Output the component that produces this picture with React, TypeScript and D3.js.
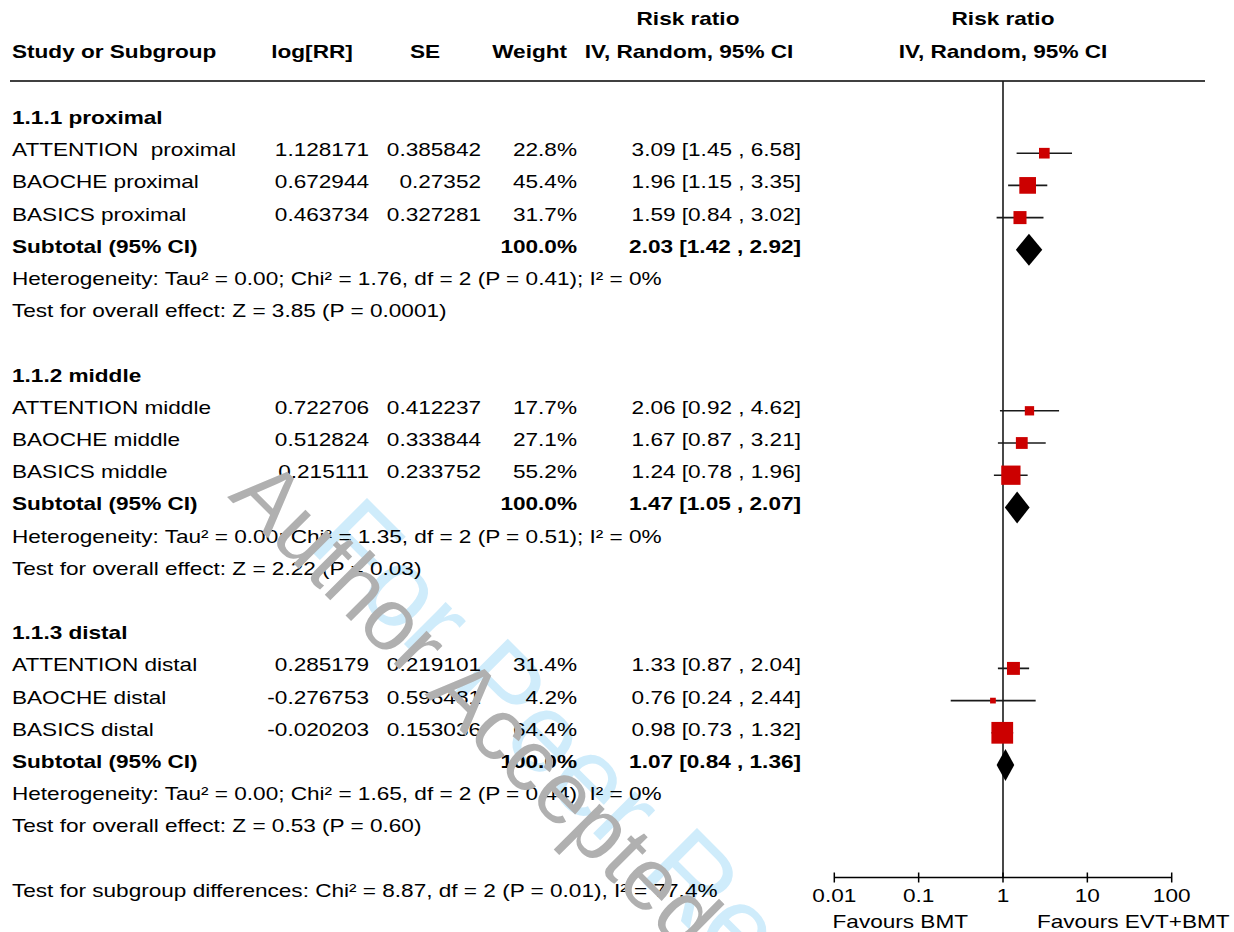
import React from "react";
import * as d3 from "d3";

// ---- data ----
const subgroupTitles = ["1.1.1 proximal", "1.1.2 middle", "1.1.3 distal"];
const studyNames = [
  ["ATTENTION  proximal", "BAOCHE proximal", "BASICS proximal"],
  ["ATTENTION middle", "BAOCHE middle", "BASICS middle"],
  ["ATTENTION distal", "BAOCHE distal", "BASICS distal"],
];
const logRR = [
  ["1.128171", "0.672944", "0.463734"],
  ["0.722706", "0.512824", "0.215111"],
  ["0.285179", "-0.276753", "-0.020203"],
];
const seValues = [
  ["0.385842", "0.27352", "0.327281"],
  ["0.412237", "0.333844", "0.233752"],
  ["0.219101", "0.596481", "0.153036"],
];
const weights = [
  [22.8, 45.4, 31.7],
  [17.7, 27.1, 55.2],
  [31.4, 4.2, 64.4],
];
const riskRatio = [
  [3.09, 1.96, 1.59],
  [2.06, 1.67, 1.24],
  [1.33, 0.76, 0.98],
];
const ciLow = [
  [1.45, 1.15, 0.84],
  [0.92, 0.87, 0.78],
  [0.87, 0.24, 0.73],
];
const ciHigh = [
  [6.58, 3.35, 3.02],
  [4.62, 3.21, 1.96],
  [2.04, 2.44, 1.32],
];
const subtotalRR = [2.03, 1.47, 1.07];
const subtotalLow = [1.42, 1.05, 0.84];
const subtotalHigh = [2.92, 2.07, 1.36];
const heterogeneity = [
  "Heterogeneity: Tau² = 0.00; Chi² = 1.76, df = 2 (P = 0.41); I² = 0%",
  "Heterogeneity: Tau² = 0.00; Chi² = 1.35, df = 2 (P = 0.51); I² = 0%",
  "Heterogeneity: Tau² = 0.00; Chi² = 1.65, df = 2 (P = 0.44); I² = 0%",
];
const overallEffect = [
  "Test for overall effect: Z = 3.85 (P = 0.0001)",
  "Test for overall effect: Z = 2.22 (P = 0.03)",
  "Test for overall effect: Z = 0.53 (P = 0.60)",
];
const subgroupDifferences =
  "Test for subgroup differences: Chi² = 8.87, df = 2 (P = 0.01), I² = 77.4%";
const axisTicks = [0.01, 0.1, 1, 10, 100];
const axisTickLabels = ["0.01", "0.1", "1", "10", "100"];
const favoursLeft = "Favours BMT";
const favoursRight = "Favours EVT+BMT";

// ---- layout ----
const W = 1234;
const H = 932;
const FONT = "'Liberation Sans', Arial, sans-serif";
const FS = 18;
const SX = 1.255; // horizontal text stretch
const rowY = (i: number) => 124 + 32.2 * i;
const colName = 12;
const colLog = 369;
const colSE = 481;
const colWeight = 577;
const colCI = 801;
const axisY = 877.5;
const topLine = 81;

const x = d3.scaleLog().domain([0.01, 100]).range([834.3, 1171.7]);
const boxSize = d3.scaleLinear().domain([0, 100]).range([4.6, 31.2]);
const fmt = d3.format(".2f");

function T(props: {
  x: number;
  y: number;
  anchor?: "start" | "middle" | "end";
  bold?: boolean;
  children: React.ReactNode;
}) {
  return (
    <text
      transform={`translate(${props.x},${props.y}) scale(${SX},1)`}
      textAnchor={props.anchor || "start"}
      fontWeight={props.bold ? "bold" : "normal"}
      fontFamily={FONT}
      fontSize={FS}
      fill="#000"
      style={{ whiteSpace: "pre" }}
    >
      {props.children}
    </text>
  );
}

export default function App() {
  const rows: React.ReactNode[] = [];
  const marks: React.ReactNode[] = [];
  let r = 0;
  subgroupTitles.forEach((title, g) => {
    rows.push(
      <T key={`t${g}`} x={colName} y={rowY(r)} bold>
        {title}
      </T>
    );
    r++;
    studyNames[g].forEach((name, s) => {
      const y = rowY(r);
      const rr = riskRatio[g][s];
      const lo = ciLow[g][s];
      const hi = ciHigh[g][s];
      const w = weights[g][s];
      rows.push(
        <g key={`s${g}${s}`}>
          <T x={colName} y={y}>{name}</T>
          <T x={colLog} y={y} anchor="end">{logRR[g][s]}</T>
          <T x={colSE} y={y} anchor="end">{seValues[g][s]}</T>
          <T x={colWeight} y={y} anchor="end">{`${w.toFixed(1)}%`}</T>
          <T x={colCI} y={y} anchor="end">{`${fmt(rr)} [${fmt(lo)} , ${fmt(hi)}]`}</T>
        </g>
      );
      const cy = y - 3;
      const side = boxSize(w);
      marks.push(
        <g key={`m${g}${s}`}>
          <line x1={x(lo)} x2={x(hi)} y1={cy} y2={cy} stroke="#1a1a1a" strokeWidth={1.6} />
          <rect
            x={x(rr) - side / 2}
            y={cy - side / 2}
            width={side}
            height={side}
            fill="#cc0000"
          />
        </g>
      );
      r++;
    });
    const ys = rowY(r);
    rows.push(
      <g key={`sub${g}`}>
        <T x={colName} y={ys} bold>Subtotal (95% CI)</T>
        <T x={colWeight} y={ys} anchor="end" bold>100.0%</T>
        <T x={colCI} y={ys} anchor="end" bold>
          {`${fmt(subtotalRR[g])} [${fmt(subtotalLow[g])} , ${fmt(subtotalHigh[g])}]`}
        </T>
      </g>
    );
    const dy = ys - 3;
    const diamond = d3.line()([
      [x(subtotalLow[g]), dy],
      [x(subtotalRR[g]), dy - 16],
      [x(subtotalHigh[g]), dy],
      [x(subtotalRR[g]), dy + 16],
    ]) + "Z";
    marks.push(<path key={`d${g}`} d={diamond} fill="#000" />);
    r++;
    rows.push(
      <T key={`h${g}`} x={colName} y={rowY(r)}>{heterogeneity[g]}</T>
    );
    r++;
    rows.push(
      <T key={`o${g}`} x={colName} y={rowY(r)}>{overallEffect[g]}</T>
    );
    r += 2;
  });
  rows.push(
    <T key="diff" x={colName} y={rowY(r)}>{subgroupDifferences}</T>
  );

  return (
    <svg
      width={W}
      height={H}
      viewBox={`0 0 ${W} ${H}`}
      style={{ position: "absolute", left: 0, top: 0, background: "#fff" }}
    >
      <rect width={W} height={H} fill="#fff" />
      {/* light blue overlay text, behind the table */}
      <text
        transform="translate(306,546) rotate(45)"
        fontFamily={FONT}
        fontSize={112}
        fill="#cfecfb"
      >
        For Peer Review
      </text>

      {/* column headers */}
      <T x={688} y={25} anchor="middle" bold>Risk ratio</T>
      <T x={1003} y={25} anchor="middle" bold>Risk ratio</T>
      <T x={colName} y={58} bold>Study or Subgroup</T>
      <T x={312} y={58} anchor="middle" bold>log[RR]</T>
      <T x={425} y={58} anchor="middle" bold>SE</T>
      <T x={567} y={58} anchor="end" bold>Weight</T>
      <T x={689} y={58} anchor="middle" bold>IV, Random, 95% CI</T>
      <T x={1003} y={58} anchor="middle" bold>IV, Random, 95% CI</T>
      <line x1={10} x2={1205} y1={topLine} y2={topLine} stroke="#000" strokeWidth={1.5} />

      {rows}

      {/* forest plot */}
      <line x1={x(1)} x2={x(1)} y1={topLine} y2={axisY} stroke="#1a1a1a" strokeWidth={1.6} />
      {marks}
      <line x1={x(0.01)} x2={x(100)} y1={axisY} y2={axisY} stroke="#000" strokeWidth={1.5} />
      {axisTicks.map((t, i) => (
        <g key={`tick${i}`}>
          <line x1={x(t)} x2={x(t)} y1={axisY - 5} y2={axisY + 5} stroke="#000" strokeWidth={1.5} />
          <T x={x(t)} y={902} anchor="middle">{axisTickLabels[i]}</T>
        </g>
      ))}
      <T x={968} y={928} anchor="end">{favoursLeft}</T>
      <T x={1037} y={928}>{favoursRight}</T>

      {/* grey overlay text, on top */}
      <text
        transform="translate(227,497) rotate(45)"
        fontFamily={FONT}
        fontSize={88}
        fill="#b0b0b0"
      >
        Author Accepted Manuscript
      </text>
    </svg>
  );
}
